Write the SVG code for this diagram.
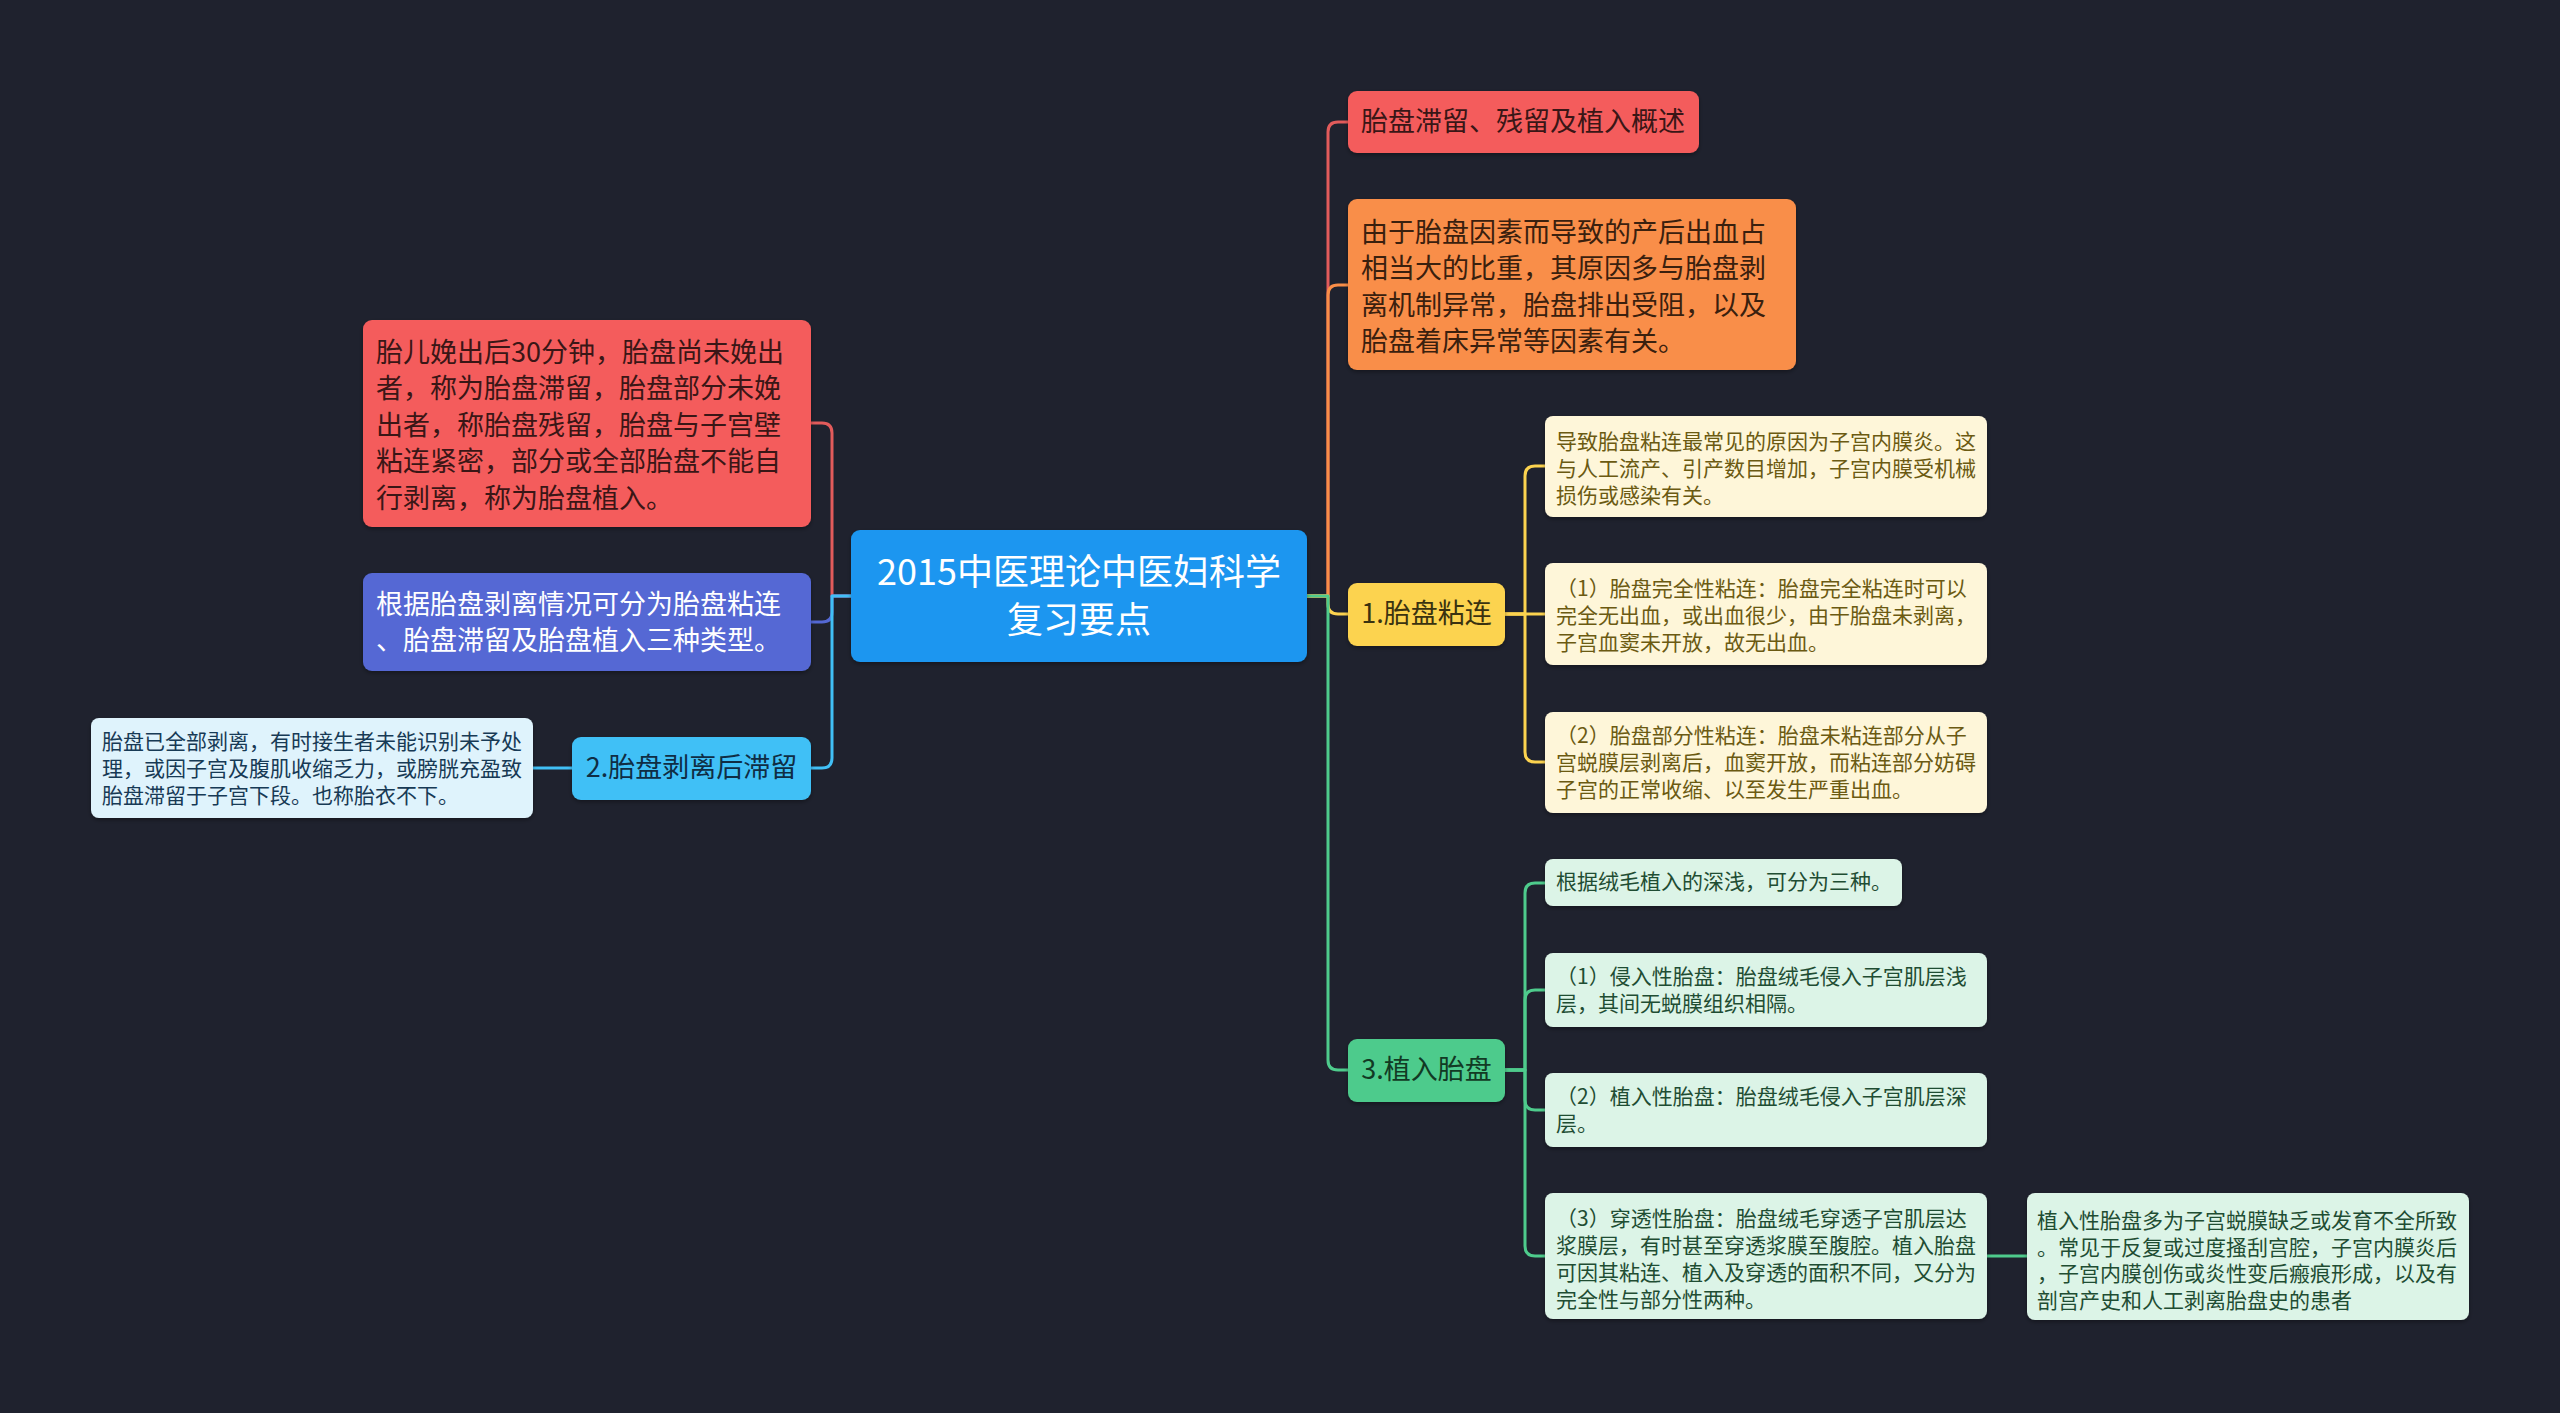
<svg xmlns="http://www.w3.org/2000/svg" width="2560" height="1413" viewBox="0 0 2560 1413">
<defs>
<style>
text{font-family:"Noto Sans CJK SC","Noto Sans",sans-serif;dominant-baseline:central;transform:translateY(-3px);}
.t1{font-size:27px;}
.t2{font-size:21px;}
.tc{font-size:36px;fill:#ffffff;text-anchor:middle;}
.mid{text-anchor:middle;}
.box{stroke:none;}
.ln{fill:none;stroke-width:3;stroke-linecap:round;stroke-linejoin:round;}
</style>
<filter id="sh" x="-5%" y="-5%" width="110%" height="115%">
<feDropShadow dx="0" dy="2" stdDeviation="2" flood-color="#000000" flood-opacity="0.35"/>
</filter>
</defs>
<rect x="0" y="0" width="2560" height="1413" fill="#1f222e"/>

<g id="connectors">
<path class="ln" stroke="#e25b5b" d="M851 596 H832 V433 Q832 423 822 423 H811"/>
<path class="ln" stroke="#5468d4" d="M851 596 H832 V612 Q832 622 822 622 H811"/>
<path class="ln" stroke="#41c0f6" d="M851 596 H832 V758 Q832 768 822 768 H811"/>
<path class="ln" stroke="#41c0f6" d="M572 768 H533"/>

<path class="ln" stroke="#e25b5b" d="M1307 596 H1328 V132 Q1328 122 1338 122 H1348"/>
<path class="ln" stroke="#f98e48" d="M1307 596 H1328 V295 Q1328 285 1338 285 H1348"/>
<path class="ln" stroke="#fcd34f" d="M1307 596 H1328 V604 Q1328 614 1338 614 H1348"/>
<path class="ln" stroke="#4ecb8c" d="M1307 596 H1328 V1060 Q1328 1070 1338 1070 H1348"/>

<path class="ln" stroke="#fcd34f" d="M1505 614 H1525 V476 Q1525 466 1535 466 H1545"/>
<path class="ln" stroke="#fcd34f" d="M1505 614 H1545"/>
<path class="ln" stroke="#fcd34f" d="M1505 614 H1525 V752 Q1525 762 1535 762 H1545"/>

<path class="ln" stroke="#4ecb8c" d="M1505 1070 H1525 V893 Q1525 883 1535 883 H1545"/>
<path class="ln" stroke="#4ecb8c" d="M1505 1070 H1525 V1000 Q1525 990 1535 990 H1545"/>
<path class="ln" stroke="#4ecb8c" d="M1505 1070 H1525 V1100 Q1525 1110 1535 1110 H1545"/>
<path class="ln" stroke="#4ecb8c" d="M1505 1070 H1525 V1246 Q1525 1256 1535 1256 H1545"/>
<path class="ln" stroke="#4ecb8c" d="M1987 1256 H2027"/>
</g>

<g id="center">
<rect class="box" filter="url(#sh)" x="851" y="530" width="456" height="132" rx="9" fill="#1a96f0"/>
<text class="tc" x="1079" y="572">2015中医理论中医妇科学</text>
<text class="tc" x="1079" y="620">复习要点</text>
</g>

<g id="left-def">
<rect class="box" filter="url(#sh)" x="363" y="320" width="448" height="207" rx="9" fill="#f45c5c"/>
<text class="t1" fill="#3a1616" x="376" y="353">胎儿娩出后30分钟，胎盘尚未娩出</text>
<text class="t1" fill="#3a1616" x="376" y="389.5">者，称为胎盘滞留，胎盘部分未娩</text>
<text class="t1" fill="#3a1616" x="376" y="426">出者，称胎盘残留，胎盘与子宫壁</text>
<text class="t1" fill="#3a1616" x="376" y="462.5">粘连紧密，部分或全部胎盘不能自</text>
<text class="t1" fill="#3a1616" x="376" y="499">行剥离，称为胎盘植入。</text>
</g>

<g id="left-types">
<rect class="box" filter="url(#sh)" x="363" y="573" width="448" height="98" rx="9" fill="#5468d4"/>
<text class="t1" fill="#ffffff" x="376" y="605">根据胎盘剥离情况可分为胎盘粘连</text>
<text class="t1" fill="#ffffff" x="376" y="641">、胎盘滞留及胎盘植入三种类型。</text>
</g>

<g id="left-retention">
<rect class="box" filter="url(#sh)" x="572" y="737" width="239" height="63" rx="9" fill="#41c0f6"/>
<text class="t1 mid" fill="#0f2d44" x="691.5" y="768.5">2.胎盘剥离后滞留</text>
</g>

<g id="left-retention-detail">
<rect class="box" filter="url(#sh)" x="91" y="718" width="442" height="100" rx="8" fill="#dff3fc"/>
<text class="t2" fill="#173a55" x="102" y="743">胎盘已全部剥离，有时接生者未能识别未予处</text>
<text class="t2" fill="#173a55" x="102" y="770">理，或因子宫及腹肌收缩乏力，或膀胱充盈致</text>
<text class="t2" fill="#173a55" x="102" y="797">胎盘滞留于子宫下段。也称胎衣不下。</text>
</g>

<g id="overview">
<rect class="box" filter="url(#sh)" x="1348" y="91" width="351" height="62" rx="9" fill="#f45c5c"/>
<text class="t1" fill="#3a1616" x="1361" y="122">胎盘滞留、残留及植入概述</text>
</g>

<g id="cause">
<rect class="box" filter="url(#sh)" x="1348" y="199" width="448" height="171" rx="9" fill="#f98e48"/>
<text class="t1" fill="#3a200e" x="1361" y="233">由于胎盘因素而导致的产后出血占</text>
<text class="t1" fill="#3a200e" x="1361" y="269.5">相当大的比重，其原因多与胎盘剥</text>
<text class="t1" fill="#3a200e" x="1361" y="306">离机制异常，胎盘排出受阻，以及</text>
<text class="t1" fill="#3a200e" x="1361" y="342.5">胎盘着床异常等因素有关。</text>
</g>

<g id="adhesion">
<rect class="box" filter="url(#sh)" x="1348" y="583" width="157" height="63" rx="9" fill="#fcd34f"/>
<text class="t1 mid" fill="#3a3210" x="1426.5" y="614">1.胎盘粘连</text>
</g>

<g id="adhesion-cause">
<rect class="box" filter="url(#sh)" x="1545" y="416" width="442" height="101" rx="8" fill="#fef6d9"/>
<text class="t2" fill="#6b5a12" x="1556" y="443">导致胎盘粘连最常见的原因为子宫内膜炎。这</text>
<text class="t2" fill="#6b5a12" x="1556" y="470">与人工流产、引产数目增加，子宫内膜受机械</text>
<text class="t2" fill="#6b5a12" x="1556" y="497">损伤或感染有关。</text>
</g>

<g id="adhesion-complete">
<rect class="box" filter="url(#sh)" x="1545" y="563" width="442" height="102" rx="8" fill="#fef6d9"/>
<text class="t2" fill="#6b5a12" x="1556" y="590">（1）胎盘完全性粘连：胎盘完全粘连时可以</text>
<text class="t2" fill="#6b5a12" x="1556" y="617">完全无出血，或出血很少，由于胎盘未剥离，</text>
<text class="t2" fill="#6b5a12" x="1556" y="644">子宫血窦未开放，故无出血。</text>
</g>

<g id="adhesion-partial">
<rect class="box" filter="url(#sh)" x="1545" y="712" width="442" height="101" rx="8" fill="#fef6d9"/>
<text class="t2" fill="#6b5a12" x="1556" y="737">（2）胎盘部分性粘连：胎盘未粘连部分从子</text>
<text class="t2" fill="#6b5a12" x="1556" y="764">宫蜕膜层剥离后，血窦开放，而粘连部分妨碍</text>
<text class="t2" fill="#6b5a12" x="1556" y="791">子宫的正常收缩、以至发生严重出血。</text>
</g>

<g id="accreta">
<rect class="box" filter="url(#sh)" x="1348" y="1039" width="157" height="63" rx="9" fill="#4ecb8c"/>
<text class="t1 mid" fill="#123a24" x="1426.5" y="1070">3.植入胎盘</text>
</g>

<g id="accreta-types">
<rect class="box" filter="url(#sh)" x="1545" y="859" width="357" height="47" rx="8" fill="#dcf4e7"/>
<text class="t2" fill="#1f4d33" x="1556" y="883">根据绒毛植入的深浅，可分为三种。</text>
</g>

<g id="accreta-1">
<rect class="box" filter="url(#sh)" x="1545" y="953" width="442" height="74" rx="8" fill="#dcf4e7"/>
<text class="t2" fill="#1f4d33" x="1556" y="978">（1）侵入性胎盘：胎盘绒毛侵入子宫肌层浅</text>
<text class="t2" fill="#1f4d33" x="1556" y="1005">层，其间无蜕膜组织相隔。</text>
</g>

<g id="accreta-2">
<rect class="box" filter="url(#sh)" x="1545" y="1073" width="442" height="74" rx="8" fill="#dcf4e7"/>
<text class="t2" fill="#1f4d33" x="1556" y="1098">（2）植入性胎盘：胎盘绒毛侵入子宫肌层深</text>
<text class="t2" fill="#1f4d33" x="1556" y="1125">层。</text>
</g>

<g id="accreta-3">
<rect class="box" filter="url(#sh)" x="1545" y="1193" width="442" height="126" rx="8" fill="#dcf4e7"/>
<text class="t2" fill="#1f4d33" x="1556" y="1220">（3）穿透性胎盘：胎盘绒毛穿透子宫肌层达</text>
<text class="t2" fill="#1f4d33" x="1556" y="1247">浆膜层，有时甚至穿透浆膜至腹腔。植入胎盘</text>
<text class="t2" fill="#1f4d33" x="1556" y="1274">可因其粘连、植入及穿透的面积不同，又分为</text>
<text class="t2" fill="#1f4d33" x="1556" y="1301">完全性与部分性两种。</text>
</g>

<g id="accreta-cause">
<rect class="box" filter="url(#sh)" x="2027" y="1193" width="442" height="127" rx="8" fill="#dcf4e7"/>
<text class="t2" fill="#1f4d33" x="2037" y="1222">植入性胎盘多为子宫蜕膜缺乏或发育不全所致</text>
<text class="t2" fill="#1f4d33" x="2037" y="1249">。常见于反复或过度搔刮宫腔，子宫内膜炎后</text>
<text class="t2" fill="#1f4d33" x="2037" y="1275">，子宫内膜创伤或炎性变后瘢痕形成，以及有</text>
<text class="t2" fill="#1f4d33" x="2037" y="1302">剖宫产史和人工剥离胎盘史的患者</text>
</g>
</svg>
